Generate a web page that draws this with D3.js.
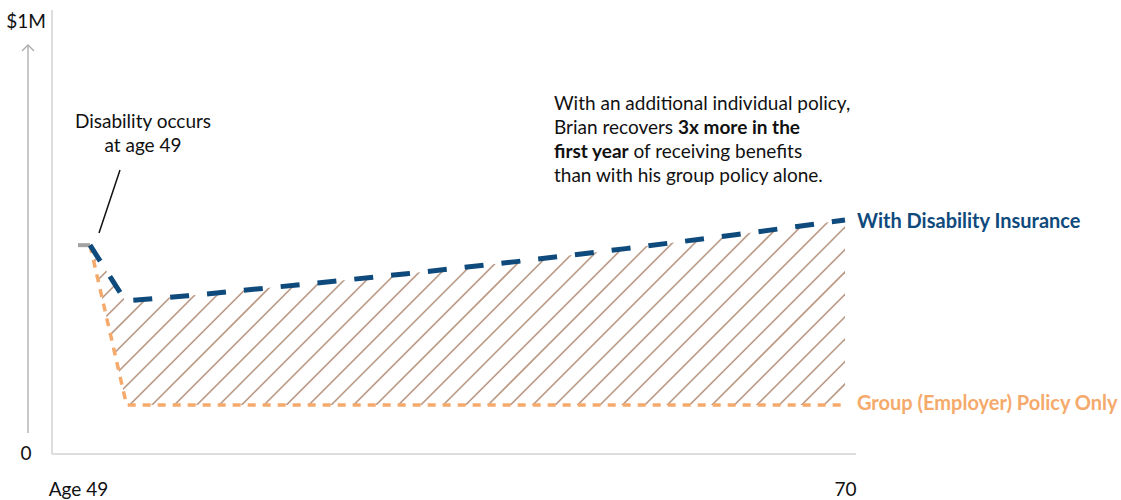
<!DOCTYPE html>
<html><head><meta charset="utf-8">
<script src="https://cdn.jsdelivr.net/npm/d3@7"></script>
<style>
html,body{margin:0;padding:0;background:#fff;}
text{font-family:Lato,"Open Sans",sans-serif;}
</style></head>
<body><svg id="c" width="1121" height="500"></svg>
<script>
// ---- data (values in $ millions, x in age) ----
const preAges = [49, 49.33];
const preIncome = [0.48, 0.48];
const insuredAges = [49.33, 50.3, 52, 55, 58, 61, 64, 67, 70];
const withInsurance = [0.48, 0.351, 0.363, 0.388, 0.414, 0.442, 0.472, 0.504, 0.538];
const groupAges = [49.33, 50.33, 70];
const groupOnly = [0.48, 0.111, 0.111];
const xTicks = [49, 70];
const xTickLabels = ["Age 49", "70"];
const yTicks = [0, 1];
const yTickLabels = ["0", "$1M"];
const seriesNames = ["With Disability Insurance", "Group (Employer) Policy Only"];

const svg = d3.select("#c");
const x = d3.scaleLinear().domain([49, 70]).range([78, 845]);
const y = d3.scaleLinear().domain([0, 1]).range([453, 20]);

const blue = "#0f4a7c", orange = "#f5aa6c", hatch = "#bb9a86", axisCol = "#d2d2d2";
const FS = 19;

const pre = preAges.map((a, i) => [a, preIncome[i]]);
const ins = insuredAges.map((a, i) => [a, withInsurance[i]]);
const grp = groupAges.map((a, i) => [a, groupOnly[i]]);

const line = d3.line().x(d => x(d[0])).y(d => y(d[1]));

// frame
svg.append("line").attr("x1", 52).attr("x2", 52).attr("y1", 10).attr("y2", y(0) + 1)
  .attr("stroke", axisCol).attr("stroke-width", 1.5);
svg.append("line").attr("x1", 52).attr("x2", x(70) + 11).attr("y1", y(0) + 1).attr("y2", y(0) + 1)
  .attr("stroke", axisCol).attr("stroke-width", 1.5);

// y arrow
const ax = 28;
svg.append("line").attr("x1", ax).attr("x2", ax).attr("y1", y(0) - 20).attr("y2", y(1) + 25)
  .attr("stroke", "#aaa").attr("stroke-width", 1.3);
svg.append("path").attr("d", `M${ax - 6},${y(1) + 31} L${ax},${y(1) + 25} L${ax + 6},${y(1) + 31}`)
  .attr("fill", "none").attr("stroke", "#aaa").attr("stroke-width", 1.3);

// y axis labels
const yAxis = d3.axisLeft(y).tickValues(yTicks).tickSize(0).tickFormat((d, i) => yTickLabels[i]);
const gy = svg.append("g").attr("transform", `translate(${ax - 2},0)`).call(yAxis);
gy.select(".domain").remove();
gy.selectAll("text").attr("x", 0).attr("text-anchor", "middle").attr("font-size", FS)
  .attr("fill", "#111").style("font-family", "Lato, sans-serif");
gy.selectAll("text").filter((d) => d === 1).attr("dy", "0.38em");

// x axis labels
const xAxis = d3.axisBottom(x).tickValues(xTicks).tickSize(0).tickFormat((d, i) => xTickLabels[i]);
const gx = svg.append("g").attr("transform", `translate(0,${y(0)})`).call(xAxis);
gx.select(".domain").remove();
gx.selectAll("text").attr("y", 43).attr("dy", 0).attr("font-size", FS).attr("fill", "#111")
  .style("font-family", "Lato, sans-serif");

// hatch area clip
const defs = svg.append("defs");
const poly = ins.concat(grp.slice().reverse()).map(d => [x(d[0]), y(d[1])]);
defs.append("clipPath").attr("id", "hclip").append("path")
  .attr("d", "M" + poly.map(p => p.join(",")).join("L") + "Z");
const hg = svg.append("g").attr("clip-path", "url(#hclip)");
const step = 22.4;
for (let c = 1005 - step * 40; c < 1005 + step * 40; c += step) {
  hg.append("line").attr("x1", 0).attr("y1", c).attr("x2", c).attr("y2", 0)
    .attr("stroke", hatch).attr("stroke-width", 1.6);
}

// series lines
svg.append("path").datum(pre).attr("d", line).attr("fill", "none")
  .attr("stroke", "#a3a3a3").attr("stroke-width", 4);
svg.append("path").datum(grp).attr("d", line).attr("fill", "none")
  .attr("stroke", orange).attr("stroke-width", 3.5).attr("stroke-dasharray", "8,7");
svg.append("path").datum(ins).attr("d", line).attr("fill", "none")
  .attr("stroke", blue).attr("stroke-width", 5).attr("stroke-dasharray", "19,18");

// series labels
svg.append("text").attr("x", x(70) + 12).attr("y", y(withInsurance[withInsurance.length - 1]) + 1)
  .attr("dy", "0.35em").attr("font-size", 20).attr("font-weight", 700).attr("fill", blue)
  .text(seriesNames[0]);
svg.append("text").attr("x", x(70) + 12).attr("y", y(groupOnly[groupOnly.length - 1]) - 2)
  .attr("dy", "0.35em").attr("font-size", 20).attr("font-weight", 700).attr("fill", orange)
  .text(seriesNames[1]);

// annotation: disability
const ann = svg.append("text").attr("text-anchor", "middle").attr("font-size", FS).attr("fill", "#111");
ann.append("tspan").attr("x", 143).attr("y", 128).text("Disability occurs");
ann.append("tspan").attr("x", 143).attr("y", 152).text("at age 49");
svg.append("line").attr("x1", 120).attr("y1", 170).attr("x2", 99).attr("y2", 233)
  .attr("stroke", "#111").attr("stroke-width", 1.5);

// annotation: benefit
const t = svg.append("text").attr("font-size", FS).attr("fill", "#111");
const L = 554;
t.append("tspan").attr("x", L).attr("y", 110).text("With an additional individual policy,");
const l2 = t.append("tspan").attr("x", L).attr("y", 134);
l2.text("Brian recovers ");
t.append("tspan").attr("font-weight", 700).text("3x more in the");
t.append("tspan").attr("x", L).attr("y", 158).attr("font-weight", 700).text("first year");
t.append("tspan").text(" of receiving benefits");
t.append("tspan").attr("x", L).attr("y", 182).text("than with his group policy alone.");
</script></body></html>
